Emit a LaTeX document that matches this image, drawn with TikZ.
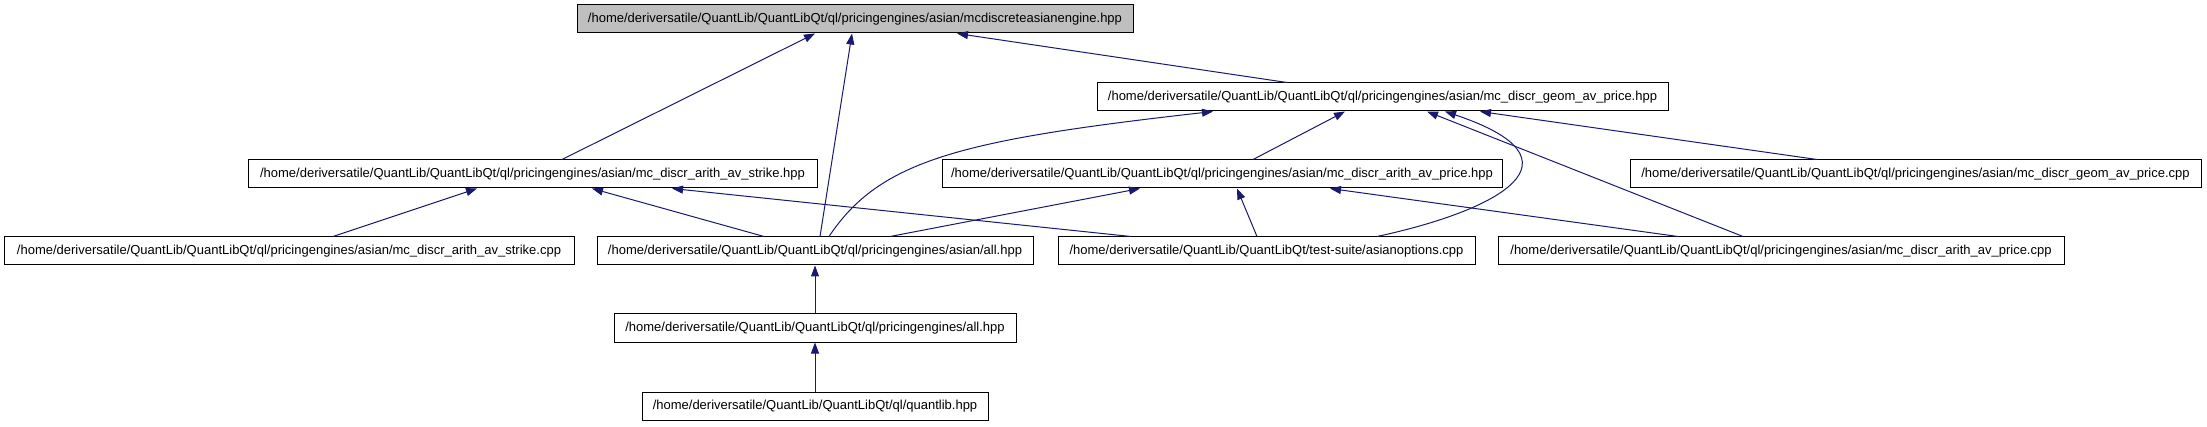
\documentclass[tikz,border=0pt]{standalone}
\usepackage{fontspec}
\setmainfont{Liberation Sans}
\usetikzlibrary{arrows.meta}
\definecolor{edgeblue}{HTML}{191970}
\definecolor{topgray}{HTML}{BFBFBF}
\tikzset{
  fbox/.style={draw=black, line width=1pt, inner sep=0pt, minimum height=28pt, anchor=center, font=\fontsize{13pt}{15pt}\selectfont},
  rootbox/.style={fbox, fill=topgray},
  dep/.style={draw=edgeblue, line width=1pt, -{Triangle[length=11pt,width=8pt]}}
}
\begin{document}
\begin{tikzpicture}[x=1pt,y=-1pt]
\useasboundingbox (0,0) rectangle (2207,427);
% nodes
\node[rootbox, minimum width=556pt] (top) at (855,19) {/home/deriversatile/QuantLib/QuantLibQt/ql/pricingengines/asian/mcdiscreteasianengine.hpp};
\node[fbox, minimum width=571pt] (geomh) at (1382.5,97) {/home/deriversatile/QuantLib/QuantLibQt/ql/pricingengines/asian/mc\_discr\_geom\_av\_price.hpp};
\node[fbox, minimum width=569pt] (strikeh) at (532.5,174) {/home/deriversatile/QuantLib/QuantLibQt/ql/pricingengines/asian/mc\_discr\_arith\_av\_strike.hpp};
\node[fbox, minimum width=560pt] (arithh) at (1222,174) {/home/deriversatile/QuantLib/QuantLibQt/ql/pricingengines/asian/mc\_discr\_arith\_av\_price.hpp};
\node[fbox, minimum width=571pt] (geomc) at (1915.5,174) {/home/deriversatile/QuantLib/QuantLibQt/ql/pricingengines/asian/mc\_discr\_geom\_av\_price.cpp};
\node[fbox, minimum width=570pt] (strikec) at (289,251) {/home/deriversatile/QuantLib/QuantLibQt/ql/pricingengines/asian/mc\_discr\_arith\_av\_strike.cpp};
\node[fbox, minimum width=436pt] (asianall) at (815,251) {/home/deriversatile/QuantLib/QuantLibQt/ql/pricingengines/asian/all.hpp};
\node[fbox, minimum width=417pt] (asianopt) at (1266.5,251) {/home/deriversatile/QuantLib/QuantLibQt/test-suite/asianoptions.cpp};
\node[fbox, minimum width=566pt] (arithc) at (1781,251) {/home/deriversatile/QuantLib/QuantLibQt/ql/pricingengines/asian/mc\_discr\_arith\_av\_price.cpp};
\node[fbox, minimum width=402pt] (peall) at (815,328) {/home/deriversatile/QuantLib/QuantLibQt/ql/pricingengines/all.hpp};
\node[fbox, minimum width=346pt] (quantlib) at (815,406) {/home/deriversatile/QuantLib/QuantLibQt/ql/quantlib.hpp};
% edges
\draw[dep] ([xshift=29.5pt]strikeh.north) -- ([xshift=-40pt]top.south);
\draw[dep] ([xshift=5pt]asianall.north) -- ([xshift=-3pt]top.south);
\draw[dep] ([xshift=-95.5pt]geomh.north) -- ([xshift=102pt]top.south);
\draw[dep] ([xshift=14pt]asianall.north) .. controls (880,160) and (960,140) .. ([xshift=-169.5pt]geomh.south);
\draw[dep] ([xshift=31pt]arithh.north) -- ([xshift=-37.5pt]geomh.south);
\draw[dep] ([xshift=110.5pt]asianopt.north) .. controls (1500,210) and (1590,160) .. ([xshift=62.5pt]geomh.south);
\draw[dep] ([xshift=-38pt]arithc.north) -- ([xshift=44.5pt]geomh.south);
\draw[dep] ([xshift=-98.5pt]geomc.north) -- ([xshift=97.5pt]geomh.south);
\draw[dep] ([xshift=44pt]strikec.north) -- ([xshift=-55.5pt]strikeh.south);
\draw[dep] ([xshift=-51pt]asianall.north) -- ([xshift=59.5pt]strikeh.south);
\draw[dep] ([xshift=-135.5pt]asianopt.north) -- ([xshift=139.5pt]strikeh.south);
\draw[dep] ([xshift=75pt]asianall.north) -- ([xshift=-82pt]arithh.south);
\draw[dep] ([xshift=-9.5pt]asianopt.north) -- ([xshift=15pt]arithh.south);
\draw[dep] ([xshift=-103pt]arithc.north) -- ([xshift=108pt]arithh.south);
\draw[dep] (peall.north) -- (asianall.south);
\draw[dep] (quantlib.north) -- (peall.south);
\end{tikzpicture}
\end{document}
